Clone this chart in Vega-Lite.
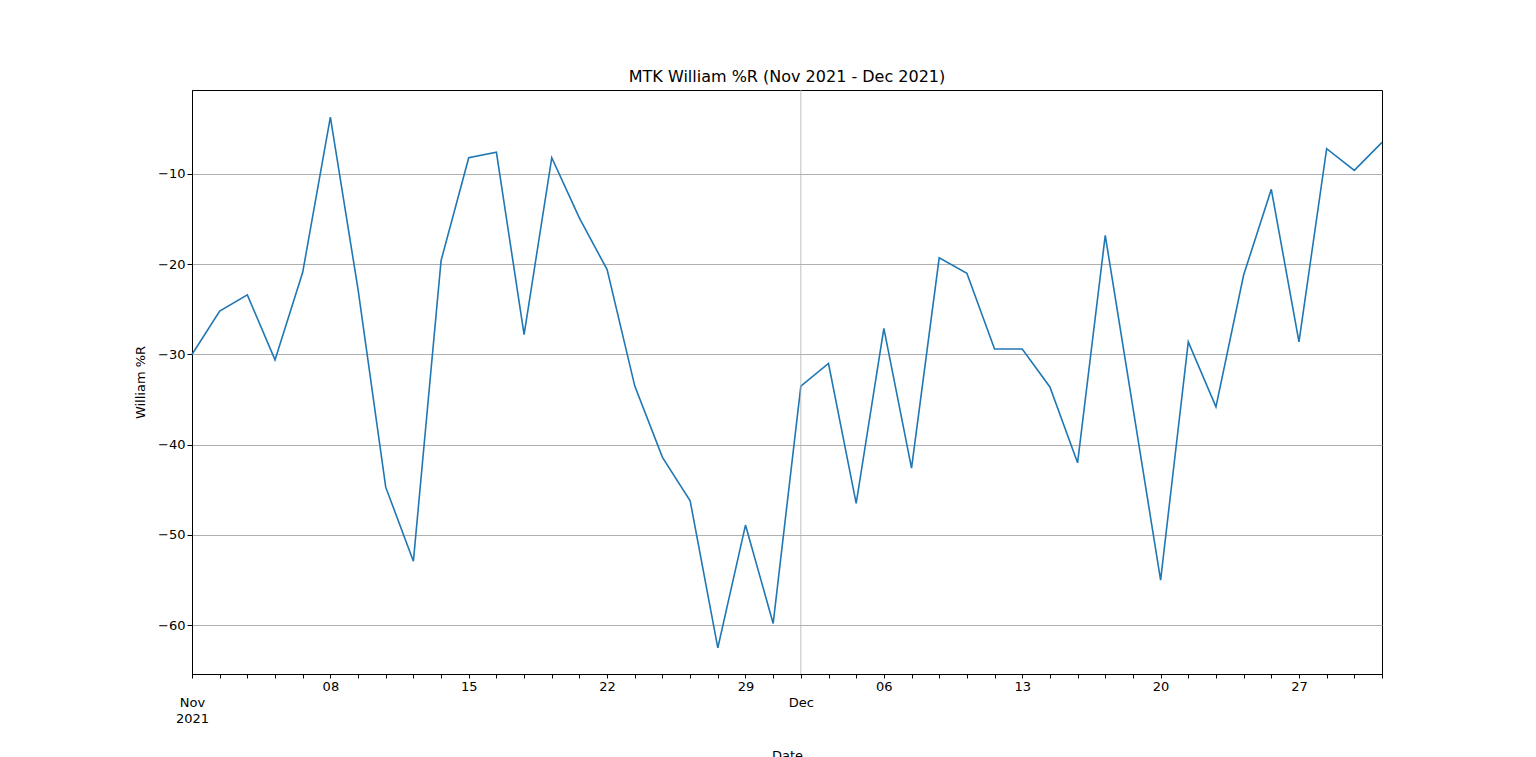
{
  "$schema": "https://vega.github.io/schema/vega-lite/v6.json",
  "width": 1190,
  "height": 584,
  "autosize": "none",
  "padding": {"left": 192, "top": 90, "right": 154, "bottom": 83},
  "background": "white",
  "title": {"text": "MTK William %R (Nov 2021 - Dec 2021)", "font": "DejaVu Sans", "fontSize": 16, "fontWeight": "normal", "offset": 5},
  "config": {
    "view": {"stroke": "black", "strokeWidth": 1},
    "axis": {"labelFont": "DejaVu Sans", "titleFont": "DejaVu Sans", "labelFontSize": 13, "titleFontSize": 13, "titleFontWeight": "normal", "labelColor": "black", "titleColor": "black", "tickColor": "black", "domainColor": "black"}
  },
  "data": {"values": [
    {"date": "2021-11-01", "wr": -30.0}, {"date": "2021-11-02", "wr": -25.2}, {"date": "2021-11-03", "wr": -23.4},
    {"date": "2021-11-04", "wr": -30.6}, {"date": "2021-11-05", "wr": -20.9}, {"date": "2021-11-08", "wr": -3.7},
    {"date": "2021-11-09", "wr": -22.8}, {"date": "2021-11-10", "wr": -44.7}, {"date": "2021-11-11", "wr": -52.9},
    {"date": "2021-11-12", "wr": -19.6}, {"date": "2021-11-15", "wr": -8.2}, {"date": "2021-11-16", "wr": -7.6},
    {"date": "2021-11-17", "wr": -27.8}, {"date": "2021-11-18", "wr": -8.2}, {"date": "2021-11-19", "wr": -14.9},
    {"date": "2021-11-22", "wr": -20.6}, {"date": "2021-11-23", "wr": -33.5}, {"date": "2021-11-24", "wr": -41.4},
    {"date": "2021-11-25", "wr": -46.2}, {"date": "2021-11-26", "wr": -62.5}, {"date": "2021-11-29", "wr": -48.9},
    {"date": "2021-11-30", "wr": -59.8}, {"date": "2021-12-01", "wr": -33.5}, {"date": "2021-12-02", "wr": -31.0},
    {"date": "2021-12-03", "wr": -46.5}, {"date": "2021-12-06", "wr": -27.1}, {"date": "2021-12-07", "wr": -42.6},
    {"date": "2021-12-08", "wr": -19.3}, {"date": "2021-12-09", "wr": -21.0}, {"date": "2021-12-10", "wr": -29.4},
    {"date": "2021-12-13", "wr": -29.4}, {"date": "2021-12-14", "wr": -33.6}, {"date": "2021-12-15", "wr": -42.0},
    {"date": "2021-12-16", "wr": -16.8}, {"date": "2021-12-17", "wr": -35.9}, {"date": "2021-12-20", "wr": -55.0},
    {"date": "2021-12-21", "wr": -28.6}, {"date": "2021-12-22", "wr": -35.8}, {"date": "2021-12-23", "wr": -21.2},
    {"date": "2021-12-24", "wr": -11.7}, {"date": "2021-12-27", "wr": -28.6}, {"date": "2021-12-28", "wr": -7.2},
    {"date": "2021-12-29", "wr": -9.6}, {"date": "2021-12-30", "wr": -6.5}
  ]},
  "encoding": {
    "x": {
      "field": "date", "type": "ordinal", "sort": null,
      "scale": {"type": "point", "padding": 0},
      "title": "Date",
      "axis": {
        "labelAngle": 0, "tickSize": 4, "grid": false, "titlePadding": 8, "labelLineHeight": 16,
        "labelExpr": "datum.value == '2021-11-01' ? [' ', ' ', 'Nov', '2021'] : datum.value == '2021-12-01' ? [' ', ' ', 'Dec'] : day(timeParse(datum.value, '%Y-%m-%d')) == 1 ? slice(datum.value, 8) : ''"
      }
    },
    "y": {
      "field": "wr", "type": "quantitative", "title": "William %R",
      "scale": {"domain": [-65.4, -0.7], "nice": false, "zero": false},
      "axis": {"values": [-60, -50, -40, -30, -20, -10], "grid": true, "gridColor": "#b0b0b0", "tickSize": 5, "titlePadding": 10, "labelExpr": "replace(format(datum.value, 'd'), '-', '\u2212')"}
    }
  },
  "layer": [
    {"mark": {"type": "line", "color": "#1f77b4", "strokeWidth": 1.6}},
    {
      "transform": [{"filter": "datum.date == '2021-12-01'"}],
      "mark": {"type": "rule", "color": "#b0b0b0", "strokeWidth": 0.8},
      "encoding": {"y": {"value": 0}, "y2": {"value": 584}}
    }
  ]
}
